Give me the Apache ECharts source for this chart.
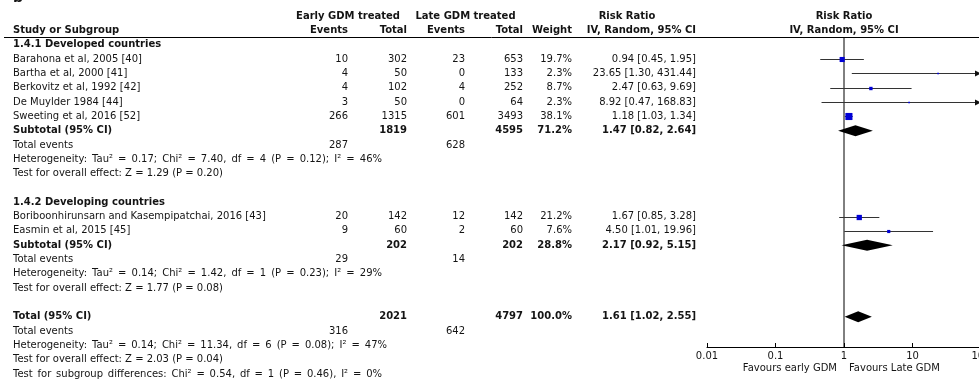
<!DOCTYPE html>
<html>
<head>
<meta charset="utf-8">
<script src="https://cdn.jsdelivr.net/npm/echarts@6/dist/echarts.min.js"></script>
<style>
  html, body { margin: 0; padding: 0; background: #ffffff; }
  #chart { width: 979px; height: 390px; }
</style>
</head>
<body>
<div id="chart"></div>
<script>
// ---- Individual studies ----
const studyNames = [
  'Barahona et al, 2005 [40]',
  'Bartha et al, 2000 [41]',
  'Berkovitz et al, 1992 [42]',
  'De Muylder 1984 [44]',
  'Sweeting et al, 2016 [52]',
  'Boriboonhirunsarn and Kasempipatchai, 2016 [43]',
  'Easmin et al, 2015 [45]'
];
const studyRows   = [1, 2, 3, 4, 5, 12, 13];
const earlyEvents = [10, 4, 4, 3, 266, 20, 9];
const earlyTotal  = [302, 50, 102, 50, 1315, 142, 60];
const lateEvents  = [23, 0, 4, 0, 601, 12, 2];
const lateTotal   = [653, 133, 252, 64, 3493, 142, 60];
const studyWeight = [19.7, 2.3, 8.7, 2.3, 38.1, 21.2, 7.6];
const studyRR     = [0.94, 23.65, 2.47, 8.92, 1.18, 1.67, 4.50];
const studyLow    = [0.45, 1.30, 0.63, 0.47, 1.03, 0.85, 1.01];
const studyHigh   = [1.95, 431.44, 9.69, 168.83, 1.34, 3.28, 19.96];

// ---- Subgroup headings ----
const groupNames = ['1.4.1 Developed countries', '1.4.2 Developing countries'];
const groupRows  = [0, 11];

// ---- Pooled estimates (two subtotals and the overall total) ----
const pooledNames      = ['Subtotal (95% CI)', 'Subtotal (95% CI)', 'Total (95% CI)'];
const pooledRows       = [6, 14, 19];
const pooledEarlyTotal = [1819, 202, 2021];
const pooledLateTotal  = [4595, 202, 4797];
const pooledWeight     = [71.2, 28.8, 100.0];
const pooledRR         = [1.47, 2.17, 1.61];
const pooledLow        = [0.82, 0.92, 1.02];
const pooledHigh       = [2.64, 5.15, 2.55];

// ---- Total events per block ----
const eventRows  = [7, 15, 20];
const eventEarly = [287, 29, 316];
const eventLate  = [628, 14, 642];

// ---- Statistics lines ----
const statRows  = [8, 9, 16, 17, 21, 22, 23];
const statLines = [
  'Heterogeneity: Tau\u00b2 = 0.17; Chi\u00b2 = 7.40, df = 4 (P = 0.12); I\u00b2 = 46%',
  'Test for overall effect: Z = 1.29 (P = 0.20)',
  'Heterogeneity: Tau\u00b2 = 0.14; Chi\u00b2 = 1.42, df = 1 (P = 0.23); I\u00b2 = 29%',
  'Test for overall effect: Z = 1.77 (P = 0.08)',
  'Heterogeneity: Tau\u00b2 = 0.14; Chi\u00b2 = 11.34, df = 6 (P = 0.08); I\u00b2 = 47%',
  'Test for overall effect: Z = 2.03 (P = 0.04)',
  'Test for subgroup differences: Chi\u00b2 = 0.54, df = 1 (P = 0.46), I\u00b2 = 0%'
];
// right end (px) of the lines set with superscripts; those lines are set with wider word spacing
const statLineEnds = [382, 0, 382, 0, 387, 0, 382];

// ---- Axis ----
const axisTicks = [0.01, 0.1, 1, 10, 100];
const favoursLeft = 'Favours early GDM';
const favoursRight = 'Favours Late GDM';

// Row range covered by the plot panel (header rule down to the axis line)
const ROW_TOP = -0.54;
const ROW_BOTTOM = 21.11;

const FONT = '"DejaVu Sans", Verdana, sans-serif';
const TXT = '#141414';

// Column anchors (pixels)
const COL = { study: 13, eEv: 348, eTot: 407, lEv: 465, lTot: 523, wt: 572, ci: 696, plotMid: 844 };

function fmt2(v) { return v.toFixed(2); }
function ciText(r, l, h) { return fmt2(r) + ' [' + fmt2(l) + ', ' + fmt2(h) + ']'; }

const measureCtx = document.createElement('canvas').getContext('2d');
function textWidth(text, font) { measureCtx.font = font; return measureCtx.measureText(text).width; }

// Build table cells
const cells = [];
function cell(row, x, text, align, bold, endX) {
  cells.push({ row, x, text: String(text), align, bold: !!bold, endX: endX || 0 });
}

// header
cell(-2, 348, 'Early GDM treated', 'center', true);
cell(-2, 465.5, 'Late GDM treated', 'center', true);
cell(-2, 627, 'Risk Ratio', 'center', true);
cell(-2, COL.plotMid, 'Risk Ratio', 'center', true);
cell(-1, COL.study, 'Study or Subgroup', 'left', true);
cell(-1, COL.eEv, 'Events', 'right', true);
cell(-1, COL.eTot, 'Total', 'right', true);
cell(-1, COL.lEv, 'Events', 'right', true);
cell(-1, COL.lTot, 'Total', 'right', true);
cell(-1, COL.wt, 'Weight', 'right', true);
cell(-1, COL.ci, 'IV, Random, 95% CI', 'right', true);
cell(-1, COL.plotMid, 'IV, Random, 95% CI', 'center', true);

groupNames.forEach((g, i) => cell(groupRows[i], COL.study, g, 'left', true));

studyNames.forEach((n, i) => {
  const r = studyRows[i];
  cell(r, COL.study, n, 'left');
  cell(r, COL.eEv, earlyEvents[i], 'right');
  cell(r, COL.eTot, earlyTotal[i], 'right');
  cell(r, COL.lEv, lateEvents[i], 'right');
  cell(r, COL.lTot, lateTotal[i], 'right');
  cell(r, COL.wt, studyWeight[i].toFixed(1) + '%', 'right');
  cell(r, COL.ci, ciText(studyRR[i], studyLow[i], studyHigh[i]), 'right');
});

pooledNames.forEach((n, i) => {
  const r = pooledRows[i];
  cell(r, COL.study, n, 'left', true);
  cell(r, COL.eTot, pooledEarlyTotal[i], 'right', true);
  cell(r, COL.lTot, pooledLateTotal[i], 'right', true);
  cell(r, COL.wt, pooledWeight[i].toFixed(1) + '%', 'right', true);
  cell(r, COL.ci, ciText(pooledRR[i], pooledLow[i], pooledHigh[i]), 'right', true);
});

eventRows.forEach((r, i) => {
  cell(r, COL.study, 'Total events', 'left');
  cell(r, COL.eEv, eventEarly[i], 'right');
  cell(r, COL.lEv, eventLate[i], 'right');
});

statLines.forEach((s, i) => cell(statRows[i], COL.study, s, 'left', false, statLineEnds[i]));

const chart = echarts.init(document.getElementById('chart'), null, { renderer: 'canvas' });

function textEl(x, y, text, font, align) {
  return { type: 'text', x: x, y: y, style: { text: text, fill: TXT, font: font, align: align, verticalAlign: 'middle' } };
}

const option = {
  animation: false,
  backgroundColor: '#ffffff',
  grid: { left: 707, top: 37, width: 274, height: 310, containLabel: false, outerBoundsMode: 'none' },
  xAxis: {
    type: 'log',
    logBase: 10,
    position: 'bottom',
    min: axisTicks[0],
    max: axisTicks[axisTicks.length - 1],
    axisLine: { show: true, onZero: false, lineStyle: { color: '#000', width: 1 } },
    axisTick: { show: true, inside: true, length: 4, lineStyle: { color: '#000' } },
    splitLine: { show: false },
    axisLabel: {
      show: true, margin: 4, color: TXT, fontFamily: FONT, fontSize: 10,
      showMinLabel: true, showMaxLabel: true, hideOverlap: false,
      formatter: v => String(parseFloat(Number(v).toPrecision(6)))
    }
  },
  yAxis: { type: 'value', inverse: true, min: ROW_TOP, max: ROW_BOTTOM, show: false },
  series: [
    // line of no effect
    {
      type: 'line', symbol: 'none', silent: true,
      data: [[1, ROW_TOP], [1, ROW_BOTTOM]],
      lineStyle: { color: '#000', width: 1 }, z: 1
    },
    // table text
    {
      type: 'custom', silent: true, clip: false,
      encode: { x: 0, y: 1 },
      data: cells.map((c, i) => [1, c.row, i]),
      renderItem: (params, api) => {
        const c = cells[api.value(2)];
        const y = api.coord([1, c.row])[1];
        const font = (c.bold ? 'bold ' : '') + '10px ' + FONT;
        if (!c.endX) return textEl(c.x, y, c.text, font, c.align);
        // justified line: words laid out with an even gap so the line ends at endX
        const words = c.text.split(' ');
        const widths = words.map(w => textWidth(w, font));
        const total = widths.reduce((s, w) => s + w, 0);
        const gap = (c.endX - c.x - total) / (words.length - 1);
        let x = c.x;
        const kids = words.map((w, k) => {
          const el = textEl(x, y, w, font, 'left');
          x += widths[k] + gap;
          return el;
        });
        return { type: 'group', children: kids };
      },
      z: 5
    },
    // study estimates: CI whiskers and weighted squares
    {
      type: 'custom', silent: true, clip: false,
      encode: { x: 0, y: 1 },
      data: studyRR.map((v, i) => [v, studyRows[i], studyLow[i], studyHigh[i], studyWeight[i]]),
      renderItem: (params, api) => {
        const rr = api.value(0), row = api.value(1), lo = api.value(2), hi = api.value(3), w = api.value(4);
        const xMax = axisTicks[axisTicks.length - 1];
        const c = api.coord([rr, row]);
        const a = api.coord([lo, row]);
        const b = api.coord([Math.min(hi, xMax), row]);
        const y = Math.round(c[1]) + 0.5;
        const s = 1.15 * Math.sqrt(w);
        const kids = [
          { type: 'line', shape: { x1: a[0], y1: y, x2: b[0], y2: y }, style: { stroke: '#333', lineWidth: 1 } },
          { type: 'rect', shape: { x: c[0] - s / 2, y: y - s / 2, width: s, height: s }, style: { fill: '#0000d6' } }
        ];
        if (hi > xMax) {
          kids.push({ type: 'polygon', shape: { points: [[b[0], y], [b[0] - 6, y - 3], [b[0] - 6, y + 3]] }, style: { fill: '#111' } });
        }
        return { type: 'group', children: kids };
      },
      z: 4
    },
    // pooled estimates: diamonds
    {
      type: 'custom', silent: true, clip: false,
      encode: { x: 0, y: 1 },
      data: pooledRR.map((v, i) => [v, pooledRows[i], pooledLow[i], pooledHigh[i]]),
      renderItem: (params, api) => {
        const rr = api.value(0), row = api.value(1), lo = api.value(2), hi = api.value(3);
        const c = api.coord([rr, row]);
        const a = api.coord([lo, row]);
        const b = api.coord([hi, row]);
        const h = 5.5;
        return {
          type: 'polygon',
          shape: { points: [[a[0], c[1]], [c[0], c[1] - h], [b[0], c[1]], [c[0], c[1] + h]] },
          style: { fill: '#000' }
        };
      },
      z: 4
    }
  ]
};

chart.setOption(option);

// header rule, panel letter and the favour labels under the axis
const axisY = 347;
const xOne = chart.convertToPixel({ xAxisIndex: 0 }, 1);
chart.setOption({
  graphic: [
    { type: 'line', shape: { x1: 4, y1: 37.5, x2: 979, y2: 37.5 }, style: { stroke: '#000', lineWidth: 1 }, z: 10 },
    { type: 'text', x: 13, y: -2, style: { text: 'b', font: 'bold 14px ' + FONT, fill: TXT, align: 'left', verticalAlign: 'middle' } },
    { type: 'text', x: xOne - 7, y: axisY + 21, style: { text: favoursLeft, font: '10px ' + FONT, fill: TXT, align: 'right', verticalAlign: 'middle' } },
    { type: 'text', x: xOne + 5, y: axisY + 21, style: { text: favoursRight, font: '10px ' + FONT, fill: TXT, align: 'left', verticalAlign: 'middle' } }
  ]
});
</script>
</body>
</html>
